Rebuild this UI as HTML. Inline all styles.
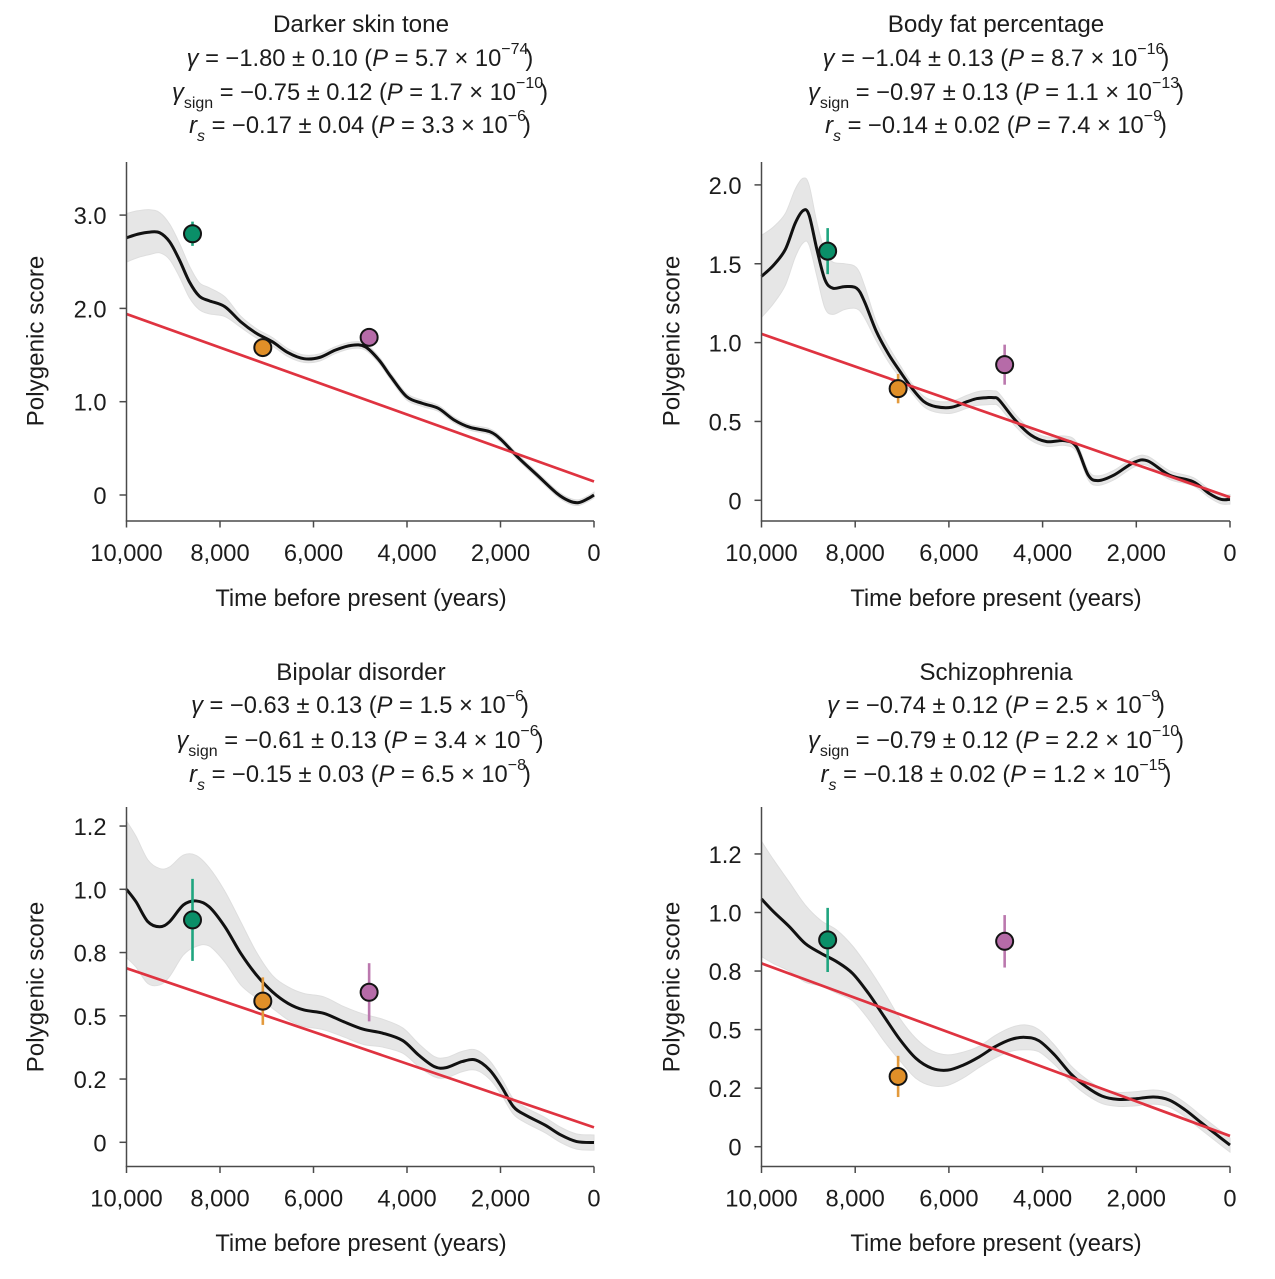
<!DOCTYPE html>
<html lang="en">
<head>
<meta charset="utf-8">
<title>Polygenic score trends over time</title>
<style>
  html, body { margin: 0; padding: 0; background: #fff; }
  svg { display: block; font-family: "Liberation Sans", Arial, sans-serif; fill: #1c1c1c; }
  text { font-size: 23.7px; }
  .title { font-size: 24.2px; }
  .ytitle { font-size: 24.2px; }
  .i { font-style: italic; }
  .sup { font-size: 16px; }
  .sub { font-size: 16px; }
  .math { text-anchor: middle; }
</style>
</head>
<body>
<svg id="figure" xmlns="http://www.w3.org/2000/svg" width="1275" height="1279" viewBox="0 0 1275 1279">
  <rect width="1275" height="1279" fill="#fff"/>

  <g>
    <text class="math title" x="361" y="32">Darker skin tone</text>
    <text class="math" x="360" y="66"><tspan class="i">γ</tspan> = −1.80 ± 0.10 (<tspan class="i">P</tspan> = 5.7 × 10<tspan class="sup" dy="-12">−74</tspan><tspan dy="12" dx="-3">)</tspan></text>
    <text class="math" x="360" y="100"><tspan class="i">γ</tspan><tspan class="sub" dy="8">sign</tspan><tspan dy="-8"> = −0.75 ± 0.12 (</tspan><tspan class="i">P</tspan> = 1.7 × 10<tspan class="sup" dy="-12">−10</tspan><tspan dy="12" dx="-3">)</tspan></text>
    <text class="math" x="360" y="133"><tspan class="i">r</tspan><tspan class="sub i" dy="8">s</tspan><tspan dy="-8"> = −0.17 ± 0.04 (</tspan><tspan class="i">P</tspan> = 3.3 × 10<tspan class="sup" dy="-12">−6</tspan><tspan dy="12" dx="-3">)</tspan></text>
  </g>

  <g>
    <text class="math title" x="996" y="32">Body fat percentage</text>
    <text class="math" x="996" y="66"><tspan class="i">γ</tspan> = −1.04 ± 0.13 (<tspan class="i">P</tspan> = 8.7 × 10<tspan class="sup" dy="-12">−16</tspan><tspan dy="12" dx="-3">)</tspan></text>
    <text class="math" x="996" y="100"><tspan class="i">γ</tspan><tspan class="sub" dy="8">sign</tspan><tspan dy="-8"> = −0.97 ± 0.13 (</tspan><tspan class="i">P</tspan> = 1.1 × 10<tspan class="sup" dy="-12">−13</tspan><tspan dy="12" dx="-3">)</tspan></text>
    <text class="math" x="996" y="133"><tspan class="i">r</tspan><tspan class="sub i" dy="8">s</tspan><tspan dy="-8"> = −0.14 ± 0.02 (</tspan><tspan class="i">P</tspan> = 7.4 × 10<tspan class="sup" dy="-12">−9</tspan><tspan dy="12" dx="-3">)</tspan></text>
  </g>

  <g>
    <text class="math title" x="361" y="680">Bipolar disorder</text>
    <text class="math" x="360" y="713"><tspan class="i">γ</tspan> = −0.63 ± 0.13 (<tspan class="i">P</tspan> = 1.5 × 10<tspan class="sup" dy="-12">−6</tspan><tspan dy="12" dx="-3">)</tspan></text>
    <text class="math" x="360" y="748"><tspan class="i">γ</tspan><tspan class="sub" dy="8">sign</tspan><tspan dy="-8"> = −0.61 ± 0.13 (</tspan><tspan class="i">P</tspan> = 3.4 × 10<tspan class="sup" dy="-12">−6</tspan><tspan dy="12" dx="-3">)</tspan></text>
    <text class="math" x="360" y="782"><tspan class="i">r</tspan><tspan class="sub i" dy="8">s</tspan><tspan dy="-8"> = −0.15 ± 0.03 (</tspan><tspan class="i">P</tspan> = 6.5 × 10<tspan class="sup" dy="-12">−8</tspan><tspan dy="12" dx="-3">)</tspan></text>
  </g>

  <g>
    <text class="math title" x="996" y="680">Schizophrenia</text>
    <text class="math" x="996" y="713"><tspan class="i">γ</tspan> = −0.74 ± 0.12 (<tspan class="i">P</tspan> = 2.5 × 10<tspan class="sup" dy="-12">−9</tspan><tspan dy="12" dx="-3">)</tspan></text>
    <text class="math" x="996" y="748"><tspan class="i">γ</tspan><tspan class="sub" dy="8">sign</tspan><tspan dy="-8"> = −0.79 ± 0.12 (</tspan><tspan class="i">P</tspan> = 2.2 × 10<tspan class="sup" dy="-12">−10</tspan><tspan dy="12" dx="-3">)</tspan></text>
    <text class="math" x="996" y="782"><tspan class="i">r</tspan><tspan class="sub i" dy="8">s</tspan><tspan dy="-8"> = −0.18 ± 0.02 (</tspan><tspan class="i">P</tspan> = 1.2 × 10<tspan class="sup" dy="-12">−15</tspan><tspan dy="12" dx="-3">)</tspan></text>
  </g>

  <text class="math" x="361" y="606">Time before present (years)</text>
  <text class="math" x="996" y="606">Time before present (years)</text>
  <text class="math" x="361" y="1251">Time before present (years)</text>
  <text class="math" x="996" y="1251">Time before present (years)</text>

  <text class="math ytitle" transform="translate(43.5 341) rotate(-90)">Polygenic score</text>
  <text class="math ytitle" transform="translate(679.5 341) rotate(-90)">Polygenic score</text>
  <text class="math ytitle" transform="translate(43.5 987) rotate(-90)">Polygenic score</text>
  <text class="math ytitle" transform="translate(679.5 987) rotate(-90)">Polygenic score</text>
</svg>

<script>
// ---------- shared axis data ----------
const xTickValues = [10000, 8000, 6000, 4000, 2000, 0];
const xTickLabels = ['10,000', '8,000', '6,000', '4,000', '2,000', '0'];
const groupNames = ['early-farmers', 'bronze-age', 'steppe'];

// ---------- Darker skin tone ----------
const skinYTicks = [3, 2, 1, 0];
const skinYLabels = ['3.0', '2.0', '1.0', '0'];
const skinTimes = [10000,9755,9501,9290,9078,8867,8656,8444,8233,7895,7557,7219,6881,6543,6205,5866,5528,5190,4894,4598,4345,4007,3669,3331,2992,2654,2232,1978,1640,1217,795,541,330,118,0];
const skinMean = [2.757,2.796,2.818,2.811,2.714,2.518,2.286,2.132,2.082,2.018,1.857,1.732,1.643,1.525,1.461,1.475,1.554,1.604,1.589,1.446,1.268,1.054,0.982,0.929,0.804,0.725,0.679,0.589,0.411,0.214,0.018,-0.061,-0.082,-0.036,0];
const skinBandTimes = [10000,9501,9078,8656,8444,8233,7895,7557,7219,6881,6205,5190,4598,4007,2992,2232,1217,330,0];
const skinBandHalf = [0.26,0.24,0.19,0.17,0.145,0.14,0.105,0.06,0.05,0.045,0.04,0.035,0.035,0.035,0.03,0.03,0.03,0.03,0.03];
const skinTrend = [1.94, 0.145];
const skinPointTimes = [8588, 7084, 4810];
const skinPointValues = [2.8, 1.58, 1.69];
const skinPointErrors = [0.13, 0.04, 0.04];

// ---------- Body fat percentage ----------
const fatYTicks = [2, 1.5, 1, 0.5, 0];
const fatYLabels = ['2.0', '1.5', '1.0', '0.5', '0'];
const fatTimes = [10000,9746,9493,9281,9112,8986,8817,8647,8478,8225,7971,7802,7548,7295,7041,6788,6534,6280,5942,5604,5400,5182,5050,4928,4590,4252,3914,3533,3280,3026,2815,2477,2054,1758,1293,786,448,194,0];
const fatMean = [1.42,1.49,1.59,1.757,1.837,1.81,1.59,1.40,1.345,1.355,1.345,1.26,1.07,0.93,0.816,0.71,0.626,0.594,0.59,0.626,0.645,0.651,0.651,0.636,0.51,0.414,0.372,0.378,0.34,0.16,0.125,0.16,0.24,0.25,0.16,0.118,0.044,0.006,0.006];
const fatBandTimes = [10000,9700,9112,8817,8647,8225,7971,7548,7041,6788,6280,5182,4000,3000,2000,500,0];
const fatBandHalf = [0.26,0.24,0.205,0.17,0.18,0.145,0.13,0.06,0.04,0.03,0.035,0.045,0.03,0.03,0.03,0.025,0.03];
const fatTrend = [1.055, 0.019];
const fatPointTimes = [8588, 7084, 4810];
const fatPointValues = [1.58, 0.708, 0.86];
const fatPointErrors = [0.146, 0.093, 0.127];

// ---------- Bipolar disorder ----------
const bipolarYTicks = [1.25, 1, 0.75, 0.5, 0.25, 0];
const bipolarYLabels = ['1.2', '1.0', '0.8', '0.5', '0.2', '0'];
const bipolarTimes = [10000,9797,9543,9290,9078,8783,8512,8233,7895,7557,7219,6881,6543,6205,5782,5359,4937,4514,4091,3753,3415,3161,2823,2527,2232,1978,1724,1471,1048,710,372,0];
const bipolarMean = [1.0,0.951,0.872,0.852,0.872,0.938,0.954,0.931,0.852,0.747,0.661,0.595,0.549,0.523,0.51,0.477,0.447,0.431,0.402,0.345,0.299,0.295,0.319,0.325,0.286,0.22,0.141,0.108,0.068,0.029,0.003,-0.001];
const bipolarBandTimes = [10000,9290,8512,8233,7557,7219,6881,6205,5782,5359,4937,4091,3415,2527,1724,1048,372,0];
const bipolarBandHalf = [0.27,0.23,0.18,0.155,0.125,0.09,0.065,0.065,0.065,0.06,0.06,0.05,0.04,0.04,0.03,0.03,0.03,0.03];
const bipolarTrend = [0.688, 0.059];
const bipolarPointTimes = [8588, 7084, 4810];
const bipolarPointValues = [0.879, 0.558, 0.593];
const bipolarPointErrors = [0.162, 0.094, 0.115];

// ---------- Schizophrenia ----------
const schizYTicks = [1.25, 1, 0.75, 0.5, 0.25, 0];
const schizYLabels = ['1.2', '1.0', '0.8', '0.5', '0.2', '0'];
const schizTimes = [10000,9746,9408,9070,8732,8394,8056,7718,7380,7041,6703,6365,6027,5689,5351,5013,4675,4379,4083,3745,3407,3068,2730,2392,2054,1631,1293,955,617,279,0];
const schizMean = [1.058,1.004,0.94,0.868,0.826,0.79,0.74,0.655,0.555,0.456,0.377,0.335,0.327,0.349,0.384,0.427,0.458,0.467,0.453,0.392,0.313,0.256,0.216,0.202,0.204,0.212,0.199,0.157,0.103,0.05,0.007];
const schizBandTimes = [10000,9408,8732,8394,8056,7718,7380,7041,6703,6027,5351,4379,3407,2392,1293,617,0];
const schizBandHalf = [0.246,0.19,0.14,0.135,0.117,0.11,0.105,0.09,0.085,0.065,0.045,0.053,0.035,0.03,0.03,0.03,0.03];
const schizTrend = [0.783, 0.046];
const schizPointTimes = [8588, 7084, 4810];
const schizPointValues = [0.883, 0.30, 0.877];
const schizPointErrors = [0.137, 0.088, 0.112];

// ---------- drawing ----------
const SVG_NS = 'http://www.w3.org/2000/svg';
const root = document.getElementById('figure');
const pointFill = ['#0a8f68', '#e08f28', '#b66ba8'];
const errorStroke = ['#1fa57f', '#e39a3c', '#bb78ae'];

function make(tag, attrs, parent) {
  const el = document.createElementNS(SVG_NS, tag);
  for (const key in attrs) el.setAttribute(key, attrs[key]);
  parent.appendChild(el);
  return el;
}

function segmentPath(pts, moveFirst) {
  let d = (moveFirst ? 'M' : 'L') + pts[0][0].toFixed(2) + ' ' + pts[0][1].toFixed(2);
  for (let i = 0; i < pts.length - 1; i++) {
    const p0 = pts[Math.max(i - 1, 0)], p1 = pts[i], p2 = pts[i + 1], p3 = pts[Math.min(i + 2, pts.length - 1)];
    const c1x = p1[0] + (p2[0] - p0[0]) / 6, c1y = p1[1] + (p2[1] - p0[1]) / 6;
    const c2x = p2[0] - (p3[0] - p1[0]) / 6, c2y = p2[1] - (p3[1] - p1[1]) / 6;
    d += 'C' + c1x.toFixed(2) + ' ' + c1y.toFixed(2) + ' ' + c2x.toFixed(2) + ' ' + c2y.toFixed(2) + ' ' + p2[0].toFixed(2) + ' ' + p2[1].toFixed(2);
  }
  return d;
}

function halfAt(t, bandTimes, bandHalf) {
  for (let i = 0; i < bandTimes.length - 1; i++) {
    if (t <= bandTimes[i] && t >= bandTimes[i + 1]) {
      const f = (bandTimes[i] - t) / (bandTimes[i] - bandTimes[i + 1]);
      return bandHalf[i] + f * (bandHalf[i + 1] - bandHalf[i]);
    }
  }
  return bandHalf[bandHalf.length - 1];
}

function drawPanel(cfg) {
  const xScale = t => cfg.xRight - (t / 10000) * (cfg.xRight - cfg.xLeft);
  const yScale = v => cfg.yZero - v * cfg.yPerUnit;
  const g = make('g', {}, root);
  
  

  // confidence band
  const upper = cfg.times.map((t, i) => [xScale(t), yScale(cfg.mean[i] + halfAt(t, cfg.bandTimes, cfg.bandHalf))]);
  const lower = cfg.times.map((t, i) => [xScale(t), yScale(cfg.mean[i] - halfAt(t, cfg.bandTimes, cfg.bandHalf))]).reverse();
  const band = make('path', { d: segmentPath(upper, true) + segmentPath(lower, false) + 'Z', fill: '#e6e6e6', stroke: '#dedede', 'stroke-width': 1 }, g);
  
  

  // smoothed mean curve
  const curvePts = cfg.times.map((t, i) => [xScale(t), yScale(cfg.mean[i])]);
  const curve = make('path', { d: segmentPath(curvePts, true), fill: 'none', stroke: '#111', 'stroke-width': 3, 'stroke-linejoin': 'round' }, g);
  
  

  // linear trend
  const trend = make('line', { x1: xScale(10000), y1: yScale(cfg.trend[0]), x2: xScale(0), y2: yScale(cfg.trend[1]), stroke: '#df3340', 'stroke-width': 2.7 }, g);
  
  

  // axes
  const yAxis = make('line', { x1: cfg.xLeft, y1: cfg.yTop, x2: cfg.xLeft, y2: cfg.yBottom, stroke: '#4a4a4a', 'stroke-width': 1.5 }, g);
  
  
  const xAxis = make('line', { x1: cfg.xLeft - 0.75, y1: cfg.yBottom, x2: cfg.xRight, y2: cfg.yBottom, stroke: '#4a4a4a', 'stroke-width': 1.5 }, g);
  
  

  xTickValues.forEach((t, i) => {
    const x = xScale(t);
    const tick = make('line', { x1: x, y1: cfg.yBottom, x2: x, y2: cfg.yBottom + 6.5, stroke: '#4a4a4a', 'stroke-width': 1.5 }, g);
    
    
    const label = make('text', { x: x, y: cfg.yBottom + 40, 'text-anchor': 'middle' }, g);
    label.textContent = xTickLabels[i];
    
    
  });

  cfg.yTicks.forEach((v, i) => {
    const y = yScale(v);
    const tick = make('line', { x1: cfg.xLeft - 7, y1: y, x2: cfg.xLeft, y2: y, stroke: '#4a4a4a', 'stroke-width': 1.5 }, g);
    
    
    const label = make('text', { x: cfg.xLeft - 20, y: y + 9, 'text-anchor': 'end' }, g);
    label.textContent = cfg.yLabels[i];
    
    
  });

  // ancient-group points with error bars
  cfg.pointTimes.forEach((t, i) => {
    const x = xScale(t);
    const bar = make('line', { x1: x, y1: yScale(cfg.pointValues[i] + cfg.pointErrors[i]), x2: x, y2: yScale(cfg.pointValues[i] - cfg.pointErrors[i]), stroke: errorStroke[i], 'stroke-width': 2.6 }, g);
    
    
    const dot = make('circle', { cx: x, cy: yScale(cfg.pointValues[i]), r: 8.5, fill: pointFill[i], stroke: '#141414', 'stroke-width': 2 }, g);
    
    
  });
}

drawPanel({ name: 'skin-tone', xLeft: 126.5, xRight: 594, yTop: 162, yBottom: 521, yZero: 495, yPerUnit: 93.3,
  yTicks: skinYTicks, yLabels: skinYLabels, times: skinTimes, mean: skinMean, bandTimes: skinBandTimes, bandHalf: skinBandHalf,
  trend: skinTrend, pointTimes: skinPointTimes, pointValues: skinPointValues, pointErrors: skinPointErrors });

drawPanel({ name: 'body-fat', xLeft: 761.5, xRight: 1230, yTop: 162, yBottom: 521, yZero: 500.3, yPerUnit: 157.7,
  yTicks: fatYTicks, yLabels: fatYLabels, times: fatTimes, mean: fatMean, bandTimes: fatBandTimes, bandHalf: fatBandHalf,
  trend: fatTrend, pointTimes: fatPointTimes, pointValues: fatPointValues, pointErrors: fatPointErrors });

drawPanel({ name: 'bipolar', xLeft: 126.5, xRight: 594, yTop: 807, yBottom: 1166.5, yZero: 1142.3, yPerUnit: 253,
  yTicks: bipolarYTicks, yLabels: bipolarYLabels, times: bipolarTimes, mean: bipolarMean, bandTimes: bipolarBandTimes, bandHalf: bipolarBandHalf,
  trend: bipolarTrend, pointTimes: bipolarPointTimes, pointValues: bipolarPointValues, pointErrors: bipolarPointErrors });

drawPanel({ name: 'schizophrenia', xLeft: 761.5, xRight: 1230, yTop: 807, yBottom: 1166.5, yZero: 1146.7, yPerUnit: 234.2,
  yTicks: schizYTicks, yLabels: schizYLabels, times: schizTimes, mean: schizMean, bandTimes: schizBandTimes, bandHalf: schizBandHalf,
  trend: schizTrend, pointTimes: schizPointTimes, pointValues: schizPointValues, pointErrors: schizPointErrors });
</script>
</body>
</html>
